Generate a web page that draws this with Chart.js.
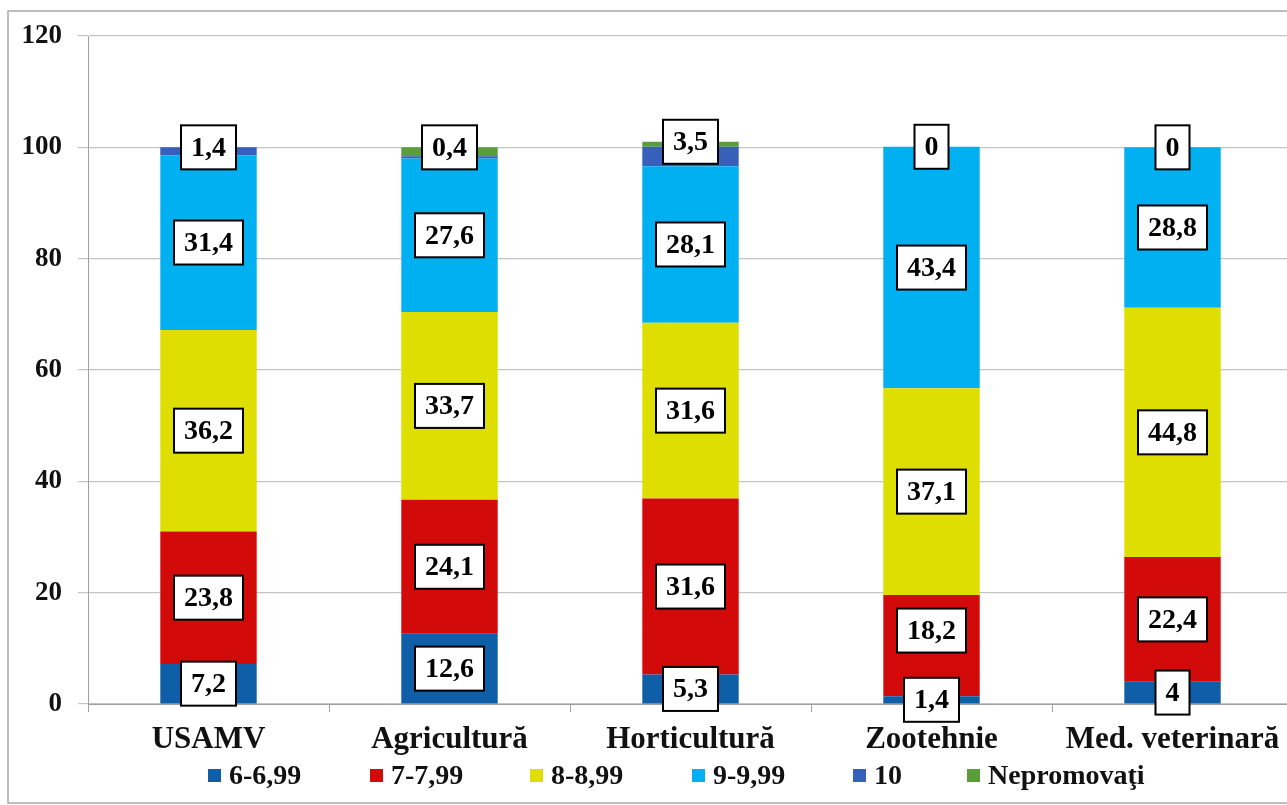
<!DOCTYPE html>
<html>
<head>
<meta charset="utf-8">
<script src="https://cdn.jsdelivr.net/npm/chart.js@4/dist/chart.umd.min.js"></script>
<style>
html,body{margin:0;padding:0;background:#fff;overflow:hidden;}
#wrap{position:relative;width:1293px;height:805px;}
</style>
</head>
<body>
<div id="wrap"><canvas id="c"></canvas></div>
<script>
const categories = ['USAMV', 'Agricultură', 'Horticultură', 'Zootehnie', 'Med. veterinară'];
const seriesNames = ['6-6,99', '7-7,99', '8-8,99', '9-9,99', '10', 'Nepromovaţi'];
const s6 = [7.2, 12.6, 5.3, 1.4, 4];
const s7 = [23.8, 24.1, 31.6, 18.2, 22.4];
const s8 = [36.2, 33.7, 31.6, 37.1, 44.8];
const s9 = [31.4, 27.6, 28.1, 43.4, 28.8];
const s10 = [1.4, 0.4, 3.5, 0, 0];
const sNep = [0, 1.6, 0.9, 0, 0];
const yMin = 0, yMax = 120, yStep = 20;

const colors = ['#0f5fa8', '#d20a0a', '#dede00', '#00b0f0', '#3660ba', '#5a9e3c'];
const seriesData = [s6, s7, s8, s9, s10, sNep];
const SERIF = '"Liberation Serif", "Times New Roman", serif';

function fmt(v){ return String(v).replace('.', ','); }

const bgPlugin = {
  id: 'bg',
  beforeDraw(chart){
    const ctx = chart.ctx;
    ctx.save();
    ctx.fillStyle = '#fff';
    ctx.fillRect(0, 0, chart.width, chart.height);
    ctx.strokeStyle = '#a8a8a8';
    ctx.lineWidth = 1.5;
    ctx.strokeRect(8, 11, chart.width + 20, 792);
    ctx.restore();
  }
};

function drawBox(ctx, x, y, text){
  ctx.font = 'bold 28px ' + SERIF;
  const w = ctx.measureText(text).width + 20;
  const h = 44;
  ctx.fillStyle = '#fff';
  ctx.fillRect(x - w/2, y - h/2, w, h);
  ctx.strokeStyle = '#000';
  ctx.lineWidth = 2;
  ctx.strokeRect(x - w/2, y - h/2, w, h);
  ctx.fillStyle = '#000';
  ctx.textAlign = 'center';
  ctx.textBaseline = 'middle';
  ctx.fillText(text, x, y + 1);
}

const labelPlugin = {
  id: 'boxLabels',
  afterDatasetsDraw(chart){
    const ctx = chart.ctx;
    const yScale = chart.scales.y;
    const shifts = {'1-3': -15};
    ctx.save();
    for (let d = 0; d < 4; d++){
      const meta = chart.getDatasetMeta(d);
      meta.data.forEach((el, i) => {
        const v = chart.data.datasets[d].data[i];
        if (!v) return;
        const cy = (el.y + el.base) / 2 + (shifts[d + '-' + i] || 0);
        drawBox(ctx, el.x, cy, fmt(v));
      });
    }
    const meta4 = chart.getDatasetMeta(4);
    meta4.data.forEach((el, i) => {
      let total = 0;
      chart.data.datasets.forEach(ds => total += ds.data[i]);
      drawBox(ctx, el.x, yScale.getPixelForValue(total), fmt(chart.data.datasets[4].data[i]));
    });
    ctx.restore();
  }
};

const legendPlugin = {
  id: 'customLegend',
  afterDraw(chart){
    const ctx = chart.ctx;
    const xs = [208, 370, 530, 692, 853, 967];
    const y = 776;
    ctx.save();
    ctx.font = 'bold 28px ' + SERIF;
    ctx.textAlign = 'left';
    ctx.textBaseline = 'middle';
    chart.data.datasets.forEach((ds, i) => {
      ctx.fillStyle = ds.backgroundColor;
      ctx.fillRect(xs[i], y - 7, 13, 13);
      ctx.fillStyle = '#111';
      ctx.fillText(ds.label, xs[i] + 21, y + 1);
    });
    ctx.restore();
  }
};

new Chart(document.getElementById('c'), {
  type: 'bar',
  data: {
    labels: categories,
    datasets: seriesNames.map((n, i) => ({
      label: n,
      data: seriesData[i],
      backgroundColor: colors[i],
      borderWidth: 0,
      barPercentage: 0.4,
      categoryPercentage: 1.0
    }))
  },
  options: {
    responsive: true,
    maintainAspectRatio: false,
    animation: false,
    devicePixelRatio: 1,
    layout: { padding: { top: 36, left: 0, right: 0, bottom: 0 } },
    plugins: { legend: { display: false }, tooltip: { enabled: false } },
    scales: {
      x: {
        stacked: true,
        afterFit(scale){ scale.height = 101; },
        grid: { display: true, offset: true, drawOnChartArea: false, drawTicks: true, tickLength: 8, color: '#a0a0a0', lineWidth: 1 },
        border: { display: true, color: '#a0a0a0' },
        ticks: { color: '#111', padding: 9, font: { family: SERIF, size: 31, weight: 'bold' }, maxRotation: 0, autoSkip: false }
      },
      y: {
        stacked: true,
        min: yMin, max: yMax,
        afterFit(scale){ scale.width = 88; },
        grid: { color: '#c4c4c4', lineWidth: 1.2, tickLength: 10, drawTicks: true },
        border: { display: true, color: '#a0a0a0' },
        ticks: { stepSize: yStep, color: '#111', padding: 16, font: { family: SERIF, size: 27, weight: 'bold' } }
      }
    }
  },
  plugins: [bgPlugin, labelPlugin, legendPlugin]
});
</script>
</body>
</html>
